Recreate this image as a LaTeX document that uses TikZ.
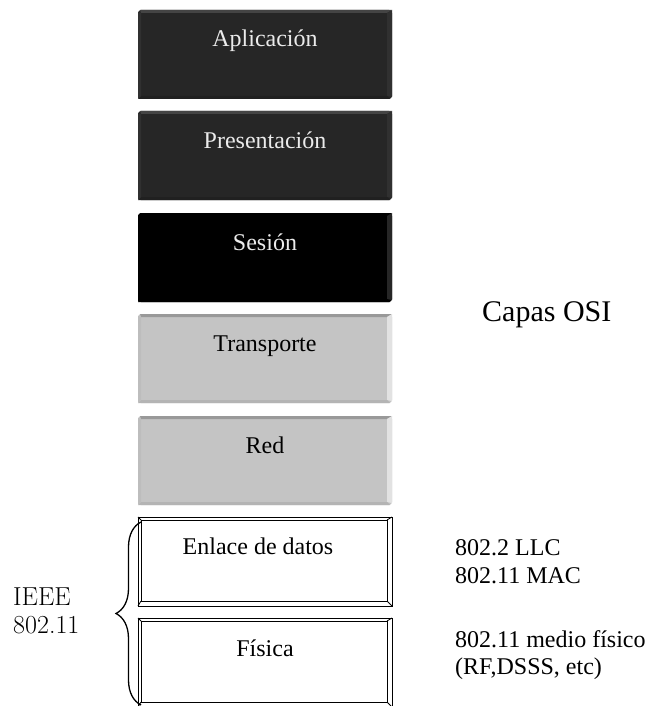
\documentclass[tikz,border=0pt]{standalone}
\usepackage{fontspec}
\setmainfont{Liberation Serif}
\newfontfamily\lmfont{Latin Modern Roman}
\usetikzlibrary{decorations.pathreplacing}

\definecolor{darkface}{HTML}{262626}
\definecolor{darktop}{HTML}{444444}
\definecolor{darkside}{HTML}{303030}
\definecolor{darklow}{HTML}{202020}
\definecolor{greyface}{HTML}{C4C4C4}
\definecolor{greytop}{HTML}{999999}
\definecolor{greyright}{HTML}{E2E2E2}
\definecolor{greylow}{HTML}{B4B4B4}
\definecolor{greyleft}{HTML}{BDBDBD}

% Bevelled layer box: #1 top edge, #2 face, #3 top, #4 right, #5 bottom, #6 left bevel
\newcommand\layerbox[6]{%
  \fill[#2, rounded corners=3bp] (138,#1) rectangle (392,#1+89);
  \fill[#3] (140,#1) -- (392,#1) -- (387,#1+3) -- (141,#1+3) -- cycle;
  \fill[#4] (392,#1) -- (392,#1+87) -- (387,#1+86) -- (387,#1+3) -- cycle;
  \fill[#5] (390,#1+89) -- (138,#1+89) -- (141,#1+86) -- (387,#1+86) -- cycle;
  \fill[#6] (138,#1+89) -- (138,#1+2) -- (141,#1+3) -- (141,#1+86) -- cycle;
}
% Outline-only bevelled box
\newcommand\outlinebox[1]{%
  \draw[boxline] (138,#1) rectangle (392,#1+89);
  \draw[boxline] (141,#1+3) rectangle (387,#1+84);
  \draw[boxline] (138,#1) -- (141,#1+3) (392,#1) -- (387,#1+3)
                 (392,#1+89) -- (387,#1+84) (138,#1+89) -- (141,#1+84);
}

\tikzset{
  boxline/.style={draw=black, line width=0.8bp},
  layertext/.style={anchor=base, inner sep=0pt, font=\fontsize{24bp}{28bp}\selectfont},
  sidetext/.style={anchor=base west, inner sep=0pt, font=\fontsize{24bp}{28bp}\selectfont},
  ieeetext/.style={anchor=base west, inner sep=0pt, font=\lmfont\fontsize{26bp}{30bp}\selectfont},
}

\begin{document}
\begin{tikzpicture}[x=1bp, y=-1bp]
  \useasboundingbox (0,0) rectangle (654,706);

  % upper layers
  \layerbox{10}{darkface}{darktop}{darkside}{darklow}{darkside}
  \layerbox{111}{darkface}{darktop}{darkside}{darklow}{darkside}
  \layerbox{213}{black}{black}{black!85!white}{black}{black}
  \layerbox{314}{greyface}{greytop}{greyright}{greylow}{greyleft}
  \layerbox{416}{greyface}{greytop}{greyright}{greylow}{greyleft}
  % IEEE 802.11 layers
  \outlinebox{517}
  \outlinebox{618}

  \node[layertext, text=white!92!black] (aplic) at (265,47) {Aplicación};
  \node[layertext, text=white!92!black] (pres) at (265,148) {Presentación};
  \node[layertext, text=white!92!black] (ses) at (265,250) {Sesión};
  \node[layertext] (trans) at (265,351) {Transporte};
  \node[layertext] (red) at (265,453) {Red};
  \node[layertext] (enl) at (258,554) {Enlace de datos};
  \node[layertext] (fis) at (265,656) {Física};

  \node[anchor=base west, inner sep=0pt, font=\fontsize{30bp}{34bp}\selectfont]
    (capas) at (482,321) {Capas OSI};

  \node[sidetext] (llc) at (455,555) {802.2 LLC};
  \node[sidetext] (mac) at (455,583) {802.11 MAC};
  \node[sidetext] (phy) at (455,647) {802.11 medio físico};
  \node[sidetext] (rf) at (455,674) {(RF,DSSS, etc)};

  \node[ieeetext] (ieee) at (13,605) {IEEE};
  \node[ieeetext] (ieeenum) at (13,633) {802.11};

  \coordinate (bracelow) at (141,705);
  \coordinate (bracehigh) at (141,522);
  \draw[line width=1.3bp, decorate, decoration={brace, amplitude=25bp}]
    (bracelow) -- (bracehigh);
\end{tikzpicture}
\end{document}
